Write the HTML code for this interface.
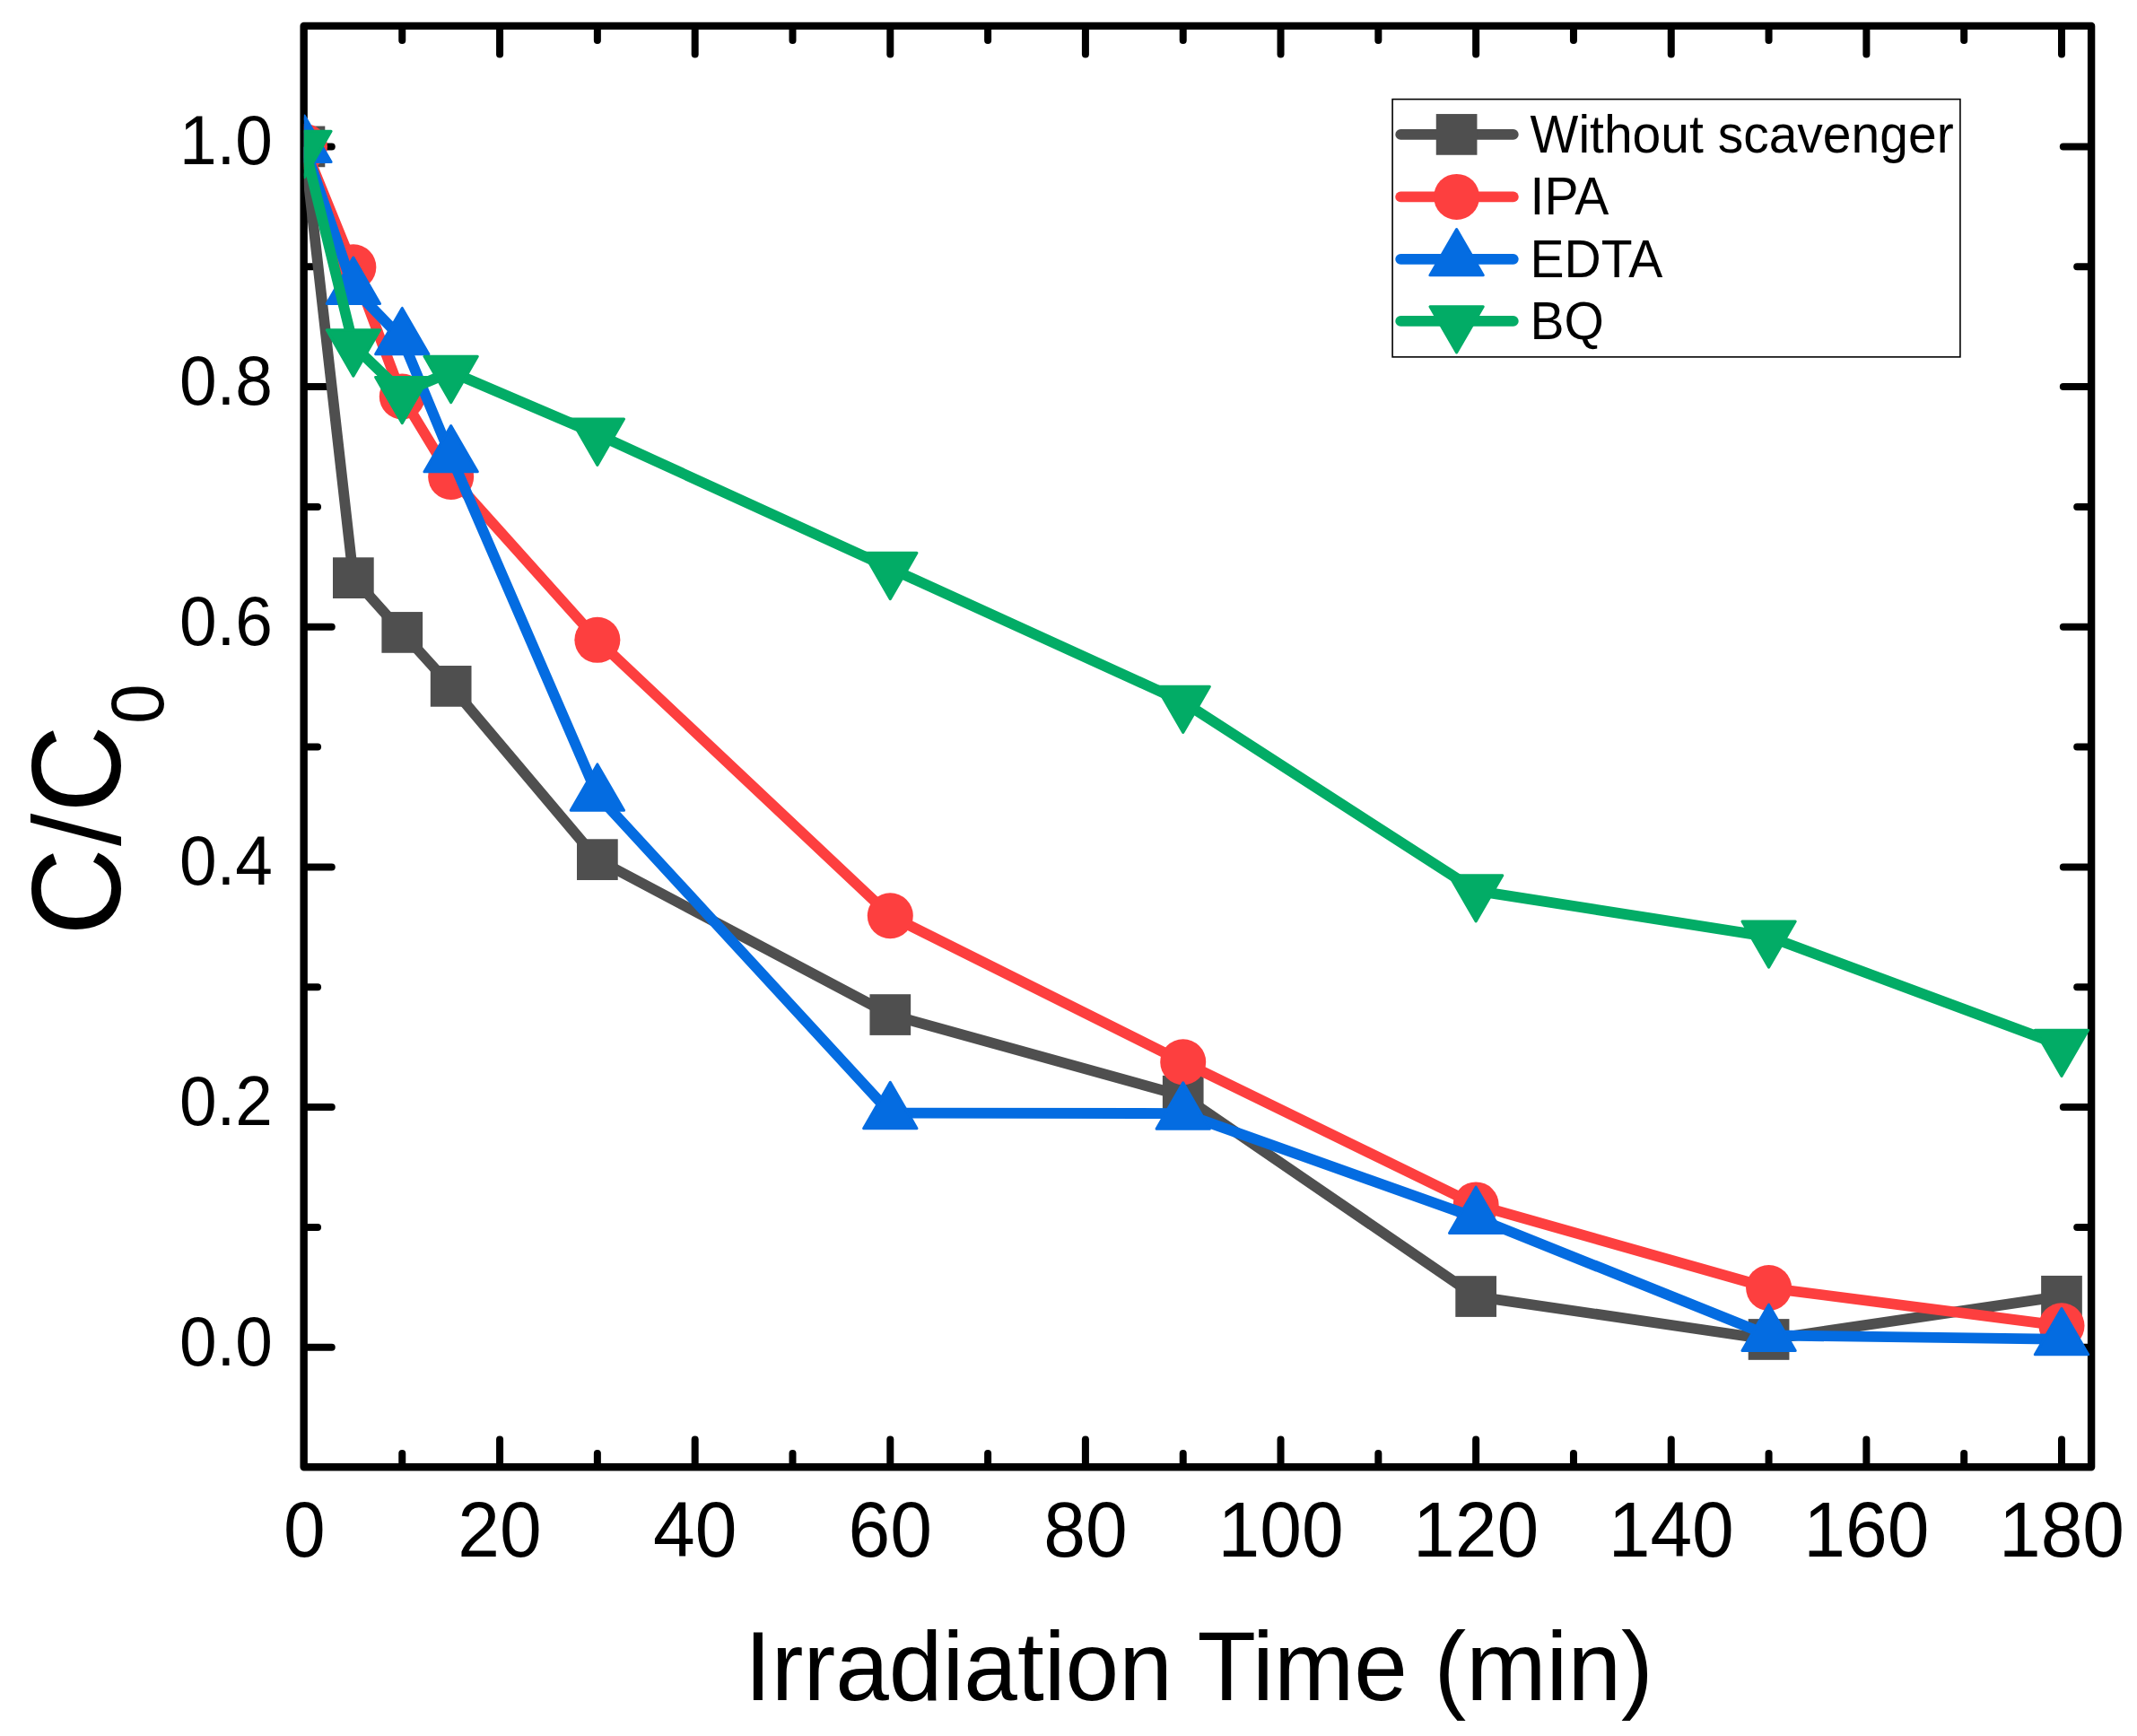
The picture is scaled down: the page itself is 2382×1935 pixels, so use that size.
<!DOCTYPE html>
<html lang="en"><head><meta charset="utf-8"><title>C/C0 vs Irradiation Time</title>
<style>
html,body{margin:0;padding:0;background:#fff;}
body{width:2382px;height:1935px;overflow:hidden;}
svg{display:block;}
text{font-family:"Liberation Sans",Arial,Helvetica,sans-serif;fill:#000;}
</style></head><body>
<svg width="2382" height="1935" viewBox="0 0 2382 1935">
<rect width="2382" height="1935" fill="#fff"/>
<defs><clipPath id="plotclip"><rect x="338.8" y="28.9" width="1992.30" height="1606.3"/></clipPath></defs>

<g stroke="#000" stroke-width="8.0" stroke-linecap="round" fill="none">
<line x1="448.26" y1="1634.2" x2="448.26" y2="1620.10"/>
<line x1="448.26" y1="29.9" x2="448.26" y2="44.90"/>
<line x1="557.07" y1="1634.2" x2="557.07" y2="1604.60"/>
<line x1="557.07" y1="29.9" x2="557.07" y2="60.50"/>
<line x1="665.87" y1="1634.2" x2="665.87" y2="1620.10"/>
<line x1="665.87" y1="29.9" x2="665.87" y2="44.90"/>
<line x1="774.68" y1="1634.2" x2="774.68" y2="1604.60"/>
<line x1="774.68" y1="29.9" x2="774.68" y2="60.50"/>
<line x1="883.49" y1="1634.2" x2="883.49" y2="1620.10"/>
<line x1="883.49" y1="29.9" x2="883.49" y2="44.90"/>
<line x1="992.30" y1="1634.2" x2="992.30" y2="1604.60"/>
<line x1="992.30" y1="29.9" x2="992.30" y2="60.50"/>
<line x1="1101.11" y1="1634.2" x2="1101.11" y2="1620.10"/>
<line x1="1101.11" y1="29.9" x2="1101.11" y2="44.90"/>
<line x1="1209.91" y1="1634.2" x2="1209.91" y2="1604.60"/>
<line x1="1209.91" y1="29.9" x2="1209.91" y2="60.50"/>
<line x1="1318.72" y1="1634.2" x2="1318.72" y2="1620.10"/>
<line x1="1318.72" y1="29.9" x2="1318.72" y2="44.90"/>
<line x1="1427.53" y1="1634.2" x2="1427.53" y2="1604.60"/>
<line x1="1427.53" y1="29.9" x2="1427.53" y2="60.50"/>
<line x1="1536.34" y1="1634.2" x2="1536.34" y2="1620.10"/>
<line x1="1536.34" y1="29.9" x2="1536.34" y2="44.90"/>
<line x1="1645.15" y1="1634.2" x2="1645.15" y2="1604.60"/>
<line x1="1645.15" y1="29.9" x2="1645.15" y2="60.50"/>
<line x1="1753.95" y1="1634.2" x2="1753.95" y2="1620.10"/>
<line x1="1753.95" y1="29.9" x2="1753.95" y2="44.90"/>
<line x1="1862.76" y1="1634.2" x2="1862.76" y2="1604.60"/>
<line x1="1862.76" y1="29.9" x2="1862.76" y2="60.50"/>
<line x1="1971.57" y1="1634.2" x2="1971.57" y2="1620.10"/>
<line x1="1971.57" y1="29.9" x2="1971.57" y2="44.90"/>
<line x1="2080.38" y1="1634.2" x2="2080.38" y2="1604.60"/>
<line x1="2080.38" y1="29.9" x2="2080.38" y2="60.50"/>
<line x1="2189.19" y1="1634.2" x2="2189.19" y2="1620.10"/>
<line x1="2189.19" y1="29.9" x2="2189.19" y2="44.90"/>
<line x1="2297.99" y1="1634.2" x2="2297.99" y2="1604.60"/>
<line x1="2297.99" y1="29.9" x2="2297.99" y2="60.50"/>
<line x1="339.65" y1="1501.80" x2="369.75" y2="1501.80"/>
<line x1="2330.1" y1="1501.80" x2="2299.80" y2="1501.80"/>
<line x1="339.65" y1="1367.96" x2="354.05" y2="1367.96"/>
<line x1="2330.1" y1="1367.96" x2="2315.20" y2="1367.96"/>
<line x1="339.65" y1="1234.12" x2="369.75" y2="1234.12"/>
<line x1="2330.1" y1="1234.12" x2="2299.80" y2="1234.12"/>
<line x1="339.65" y1="1100.28" x2="354.05" y2="1100.28"/>
<line x1="2330.1" y1="1100.28" x2="2315.20" y2="1100.28"/>
<line x1="339.65" y1="966.44" x2="369.75" y2="966.44"/>
<line x1="2330.1" y1="966.44" x2="2299.80" y2="966.44"/>
<line x1="339.65" y1="832.60" x2="354.05" y2="832.60"/>
<line x1="2330.1" y1="832.60" x2="2315.20" y2="832.60"/>
<line x1="339.65" y1="698.76" x2="369.75" y2="698.76"/>
<line x1="2330.1" y1="698.76" x2="2299.80" y2="698.76"/>
<line x1="339.65" y1="564.92" x2="354.05" y2="564.92"/>
<line x1="2330.1" y1="564.92" x2="2315.20" y2="564.92"/>
<line x1="339.65" y1="431.08" x2="369.75" y2="431.08"/>
<line x1="2330.1" y1="431.08" x2="2299.80" y2="431.08"/>
<line x1="339.65" y1="297.24" x2="354.05" y2="297.24"/>
<line x1="2330.1" y1="297.24" x2="2315.20" y2="297.24"/>
<line x1="339.65" y1="163.40" x2="369.75" y2="163.40"/>
<line x1="2330.1" y1="163.40" x2="2299.80" y2="163.40"/>
</g>
<rect x="338.65" y="28.9" width="1992.45" height="1606.30" fill="none" stroke="#000" stroke-width="8.4" stroke-linejoin="round"/>
<g font-size="84" text-anchor="middle">
<text transform="translate(339.45,1735) scale(1,1.041)">0</text>
<text transform="translate(557.07,1735) scale(1,1.041)">20</text>
<text transform="translate(774.68,1735) scale(1,1.041)">40</text>
<text transform="translate(992.30,1735) scale(1,1.041)">60</text>
<text transform="translate(1209.91,1735) scale(1,1.041)">80</text>
<text transform="translate(1427.53,1735) scale(1,1.041)">100</text>
<text transform="translate(1645.15,1735) scale(1,1.041)">120</text>
<text transform="translate(1862.76,1735) scale(1,1.041)">140</text>
<text transform="translate(2080.38,1735) scale(1,1.041)">160</text>
<text transform="translate(2297.99,1735) scale(1,1.041)">180</text>
</g>
<g font-size="74.8" text-anchor="end">
<text transform="translate(303.9,1521.70) scale(1,1.03)">0.0</text>
<text transform="translate(303.9,1254.02) scale(1,1.03)">0.2</text>
<text transform="translate(303.9,986.34) scale(1,1.03)">0.4</text>
<text transform="translate(303.9,718.66) scale(1,1.03)">0.6</text>
<text transform="translate(303.9,450.98) scale(1,1.03)">0.8</text>
<text transform="translate(303.9,183.30) scale(1,1.03)">1.0</text>
</g>
<text id="xtitle" transform="translate(1336.4,1895.2) scale(1,1.028)" font-size="107.2" text-anchor="middle">Irradiation Time (min)</text>
<g transform="translate(134.3,1042.7) rotate(-90) scale(1,1.048)"><text id="ytitle" font-size="135"><tspan x="0" y="0">C</tspan><tspan x="99.6" y="0" font-size="130.5">/</tspan><tspan x="137.05" y="0">C</tspan><tspan x="235.9" y="45.4" font-size="79.6">0</tspan></text></g>
<g clip-path="url(#plotclip)">
<polyline points="339.45,163.40 393.85,644.15 448.26,704.92 502.66,764.88 665.87,958.14 992.30,1131.06 1318.72,1221.67 1645.15,1445.05 1971.57,1492.97 2297.99,1444.78" fill="none" stroke="#4F4F4F" stroke-width="11.8" stroke-linejoin="round" stroke-linecap="butt"/>
<rect x="316.60" y="140.55" width="45.7" height="45.7" fill="#4F4F4F"/>
<rect x="371.00" y="621.30" width="45.7" height="45.7" fill="#4F4F4F"/>
<rect x="425.41" y="682.07" width="45.7" height="45.7" fill="#4F4F4F"/>
<rect x="479.81" y="742.03" width="45.7" height="45.7" fill="#4F4F4F"/>
<rect x="643.02" y="935.29" width="45.7" height="45.7" fill="#4F4F4F"/>
<rect x="969.45" y="1108.21" width="45.7" height="45.7" fill="#4F4F4F"/>
<rect x="1295.87" y="1198.82" width="45.7" height="45.7" fill="#4F4F4F"/>
<rect x="1622.30" y="1422.20" width="45.7" height="45.7" fill="#4F4F4F"/>
<rect x="1948.72" y="1470.12" width="45.7" height="45.7" fill="#4F4F4F"/>
<rect x="2275.14" y="1421.93" width="45.7" height="45.7" fill="#4F4F4F"/>
<polyline points="339.45,163.40 393.85,297.78 448.26,442.05 502.66,531.46 665.87,713.35 992.30,1020.78 1318.72,1183.80 1645.15,1342.93 1971.57,1435.55 2297.99,1477.84" fill="none" stroke="#FD3F3F" stroke-width="11.8" stroke-linejoin="round" stroke-linecap="butt"/>
<circle cx="339.45" cy="163.40" r="25.5" fill="#FD3F3F"/>
<circle cx="393.85" cy="297.78" r="25.5" fill="#FD3F3F"/>
<circle cx="448.26" cy="442.05" r="25.5" fill="#FD3F3F"/>
<circle cx="502.66" cy="531.46" r="25.5" fill="#FD3F3F"/>
<circle cx="665.87" cy="713.35" r="25.5" fill="#FD3F3F"/>
<circle cx="992.30" cy="1020.78" r="25.5" fill="#FD3F3F"/>
<circle cx="1318.72" cy="1183.80" r="25.5" fill="#FD3F3F"/>
<circle cx="1645.15" cy="1342.93" r="25.5" fill="#FD3F3F"/>
<circle cx="1971.57" cy="1435.55" r="25.5" fill="#FD3F3F"/>
<circle cx="2297.99" cy="1477.84" r="25.5" fill="#FD3F3F"/>
<polyline points="339.45,163.40 393.85,321.33 448.26,377.68 502.66,508.71 665.87,886.14 992.30,1240.54 1318.72,1241.08 1645.15,1357.39 1971.57,1488.42 2297.99,1492.70" fill="none" stroke="#046CE1" stroke-width="11.8" stroke-linejoin="round" stroke-linecap="butt"/>
<polygon points="339.45,129.16 309.80,180.52 369.10,180.52" fill="#046CE1" stroke="#046CE1" stroke-width="3.0" stroke-linejoin="round"/>
<polygon points="393.85,287.09 364.20,338.45 423.50,338.45" fill="#046CE1" stroke="#046CE1" stroke-width="3.0" stroke-linejoin="round"/>
<polygon points="448.26,343.44 418.61,394.80 477.91,394.80" fill="#046CE1" stroke="#046CE1" stroke-width="3.0" stroke-linejoin="round"/>
<polygon points="502.66,474.47 473.01,525.83 532.31,525.83" fill="#046CE1" stroke="#046CE1" stroke-width="3.0" stroke-linejoin="round"/>
<polygon points="665.87,851.90 636.22,903.25 695.52,903.25" fill="#046CE1" stroke="#046CE1" stroke-width="3.0" stroke-linejoin="round"/>
<polygon points="992.30,1206.31 962.65,1257.66 1021.95,1257.66" fill="#046CE1" stroke="#046CE1" stroke-width="3.0" stroke-linejoin="round"/>
<polygon points="1318.72,1206.84 1289.07,1258.20 1348.37,1258.20" fill="#046CE1" stroke="#046CE1" stroke-width="3.0" stroke-linejoin="round"/>
<polygon points="1645.15,1323.15 1615.50,1374.51 1674.80,1374.51" fill="#046CE1" stroke="#046CE1" stroke-width="3.0" stroke-linejoin="round"/>
<polygon points="1971.57,1454.18 1941.92,1505.53 2001.22,1505.53" fill="#046CE1" stroke="#046CE1" stroke-width="3.0" stroke-linejoin="round"/>
<polygon points="2297.99,1458.46 2268.34,1509.82 2327.64,1509.82" fill="#046CE1" stroke="#046CE1" stroke-width="3.0" stroke-linejoin="round"/>
<polyline points="339.45,163.40 393.85,384.91 448.26,437.50 502.66,414.48 665.87,484.21 992.30,633.45 1318.72,782.28 1645.15,992.81 1971.57,1044.07 2297.99,1165.33" fill="none" stroke="#02AC66" stroke-width="11.8" stroke-linejoin="round" stroke-linecap="butt"/>
<polygon points="339.45,197.64 309.80,146.28 369.10,146.28" fill="#02AC66" stroke="#02AC66" stroke-width="3.0" stroke-linejoin="round"/>
<polygon points="393.85,419.14 364.20,367.79 423.50,367.79" fill="#02AC66" stroke="#02AC66" stroke-width="3.0" stroke-linejoin="round"/>
<polygon points="448.26,471.74 418.61,420.39 477.91,420.39" fill="#02AC66" stroke="#02AC66" stroke-width="3.0" stroke-linejoin="round"/>
<polygon points="502.66,448.72 473.01,397.37 532.31,397.37" fill="#02AC66" stroke="#02AC66" stroke-width="3.0" stroke-linejoin="round"/>
<polygon points="665.87,518.45 636.22,467.10 695.52,467.10" fill="#02AC66" stroke="#02AC66" stroke-width="3.0" stroke-linejoin="round"/>
<polygon points="992.30,667.68 962.65,616.33 1021.95,616.33" fill="#02AC66" stroke="#02AC66" stroke-width="3.0" stroke-linejoin="round"/>
<polygon points="1318.72,816.51 1289.07,765.16 1348.37,765.16" fill="#02AC66" stroke="#02AC66" stroke-width="3.0" stroke-linejoin="round"/>
<polygon points="1645.15,1027.04 1615.50,975.69 1674.80,975.69" fill="#02AC66" stroke="#02AC66" stroke-width="3.0" stroke-linejoin="round"/>
<polygon points="1971.57,1078.30 1941.92,1026.95 2001.22,1026.95" fill="#02AC66" stroke="#02AC66" stroke-width="3.0" stroke-linejoin="round"/>
<polygon points="2297.99,1199.56 2268.34,1148.21 2327.64,1148.21" fill="#02AC66" stroke="#02AC66" stroke-width="3.0" stroke-linejoin="round"/>
</g>
<rect x="1552.1" y="110.6" width="632.80" height="287.30" fill="#fff" stroke="#000" stroke-width="1.6"/>
<line x1="1561.2" y1="149.9" x2="1686.8" y2="149.9" stroke="#4F4F4F" stroke-width="11.8" stroke-linecap="round"/>
<rect x="1600.75" y="127.05" width="45.7" height="45.7" fill="#4F4F4F"/>
<text transform="translate(1705.6,169.60) scale(1,1.03)" font-size="57">Without scavenger</text>
<line x1="1561.2" y1="219.4" x2="1686.8" y2="219.4" stroke="#FD3F3F" stroke-width="11.8" stroke-linecap="round"/>
<circle cx="1623.60" cy="219.40" r="25.5" fill="#FD3F3F"/>
<text transform="translate(1705.6,239.10) scale(1,1.03)" font-size="57">IPA</text>
<line x1="1561.2" y1="288.8" x2="1686.8" y2="288.8" stroke="#046CE1" stroke-width="11.8" stroke-linecap="round"/>
<polygon points="1623.60,255.46 1593.95,306.82 1653.25,306.82" fill="#046CE1" stroke="#046CE1" stroke-width="3.0" stroke-linejoin="round"/>
<text transform="translate(1705.6,308.50) scale(1,1.03)" font-size="57">EDTA</text>
<line x1="1561.2" y1="357.9" x2="1686.8" y2="357.9" stroke="#02AC66" stroke-width="11.8" stroke-linecap="round"/>
<polygon points="1623.60,393.04 1593.95,341.68 1653.25,341.68" fill="#02AC66" stroke="#02AC66" stroke-width="3.0" stroke-linejoin="round"/>
<text transform="translate(1705.6,377.60) scale(1,1.03)" font-size="57">BQ</text>
</svg></body></html>
